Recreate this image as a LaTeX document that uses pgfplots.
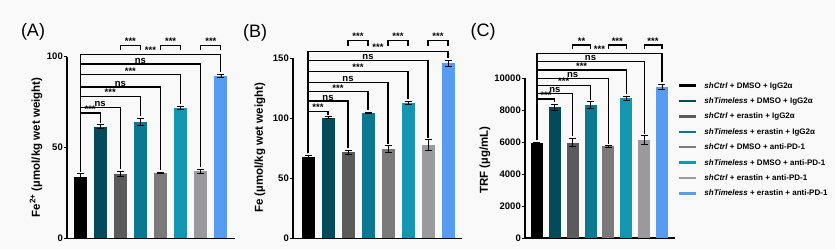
\documentclass[border=0pt]{standalone}
\usepackage{pgfplots}
\pgfplotsset{compat=1.18}
\usepackage{fontspec}
\setmainfont{Liberation Sans}
\usetikzlibrary{calc}
\definecolor{bg}{HTML}{F9F9F9}
\definecolor{c1}{HTML}{000000}
\definecolor{c2}{HTML}{034A5A}
\definecolor{c3}{HTML}{5B5B5B}
\definecolor{c4}{HTML}{0A7890}
\definecolor{c5}{HTML}{7A7A7A}
\definecolor{c6}{HTML}{1496B1}
\definecolor{c7}{HTML}{9A9A9E}
\definecolor{c8}{HTML}{569CF0}
\newcommand{\brk}[6]{%
  \draw[brk] (axis cs:#1,#4) -- (axis cs:#1,#3) -- (axis cs:#2,#3) -- (axis cs:#2,#5);
  \node[sig] at ($(axis cs:#1,#3)!0.5!(axis cs:#2,#3)$) {#6};}
\newcommand{\stars}{\fontsize{9.5}{9.5}\selectfont\raisebox{-2.3pt}{***}}
\newcommand{\twostars}{\fontsize{9.5}{9.5}\selectfont\raisebox{-2.3pt}{**}}
\newcommand{\ns}{\fontsize{9.5}{9.5}\selectfont ns}
\tikzset{brk/.style={line width=1.1pt, black},
  sig/.style={anchor=south, inner sep=0.6pt, font=\bfseries},
  ylab/.style={rotate=90, anchor=center, font=\bfseries\fontsize{11.5}{11.5}\selectfont}}
\newcommand{\limg}[1]{\addlegendimage{legend image code/.code={\draw[line width=2.5pt, draw=#1] (0pt,0pt) -- (17pt,0pt); \path[draw=none] (0pt,0pt) -- (24pt,0pt);}}}
\pgfplotsset{
  mybase/.style={
    scale only axis, clip=false,
    axis lines*=left,
    axis line style={line width=1.2pt, -},
    xtick=\empty,
    tick style={line width=1pt, black},
    major tick length=3pt,
    tick align=outside,
    ytick pos=left,
    minor tick num=0,
    scaled y ticks=false,
    /pgf/number format/assume math mode=true,
    /pgf/number format/1000 sep={},
    yticklabel style={font=\bfseries\fontsize{9.5}{10}\selectfont, inner sep=1pt},
    anchor=south west,
  },
  eb/.style={ybar, bar shift=0pt, draw=none,
    /pgfplots/error bars/y dir=both,
    /pgfplots/error bars/y explicit,
    /pgfplots/error bars/error bar style={line width=0.8pt, black},
    /pgfplots/error bars/error mark options={rotate=90, mark size=3.5pt, line width=0.8pt, black}},
}
\begin{document}
\begin{tikzpicture}
\fill[bg] (0pt,0pt) rectangle (835pt,-249pt);
\node[font=\fontsize{18}{18}\selectfont] at (33pt,-32pt) {(A)};
\node[font=\fontsize{18}{18}\selectfont] at (255pt,-33pt) {(B)};
\node[font=\fontsize{18}{18}\selectfont] at (483pt,-32pt) {(C)};
\node[ylab] at (36pt,-147.5pt) {Fe\textsuperscript{2+} (µmol/kg wet weight)};
\node[ylab] at (260pt,-148pt) {Fe (µmol/kg wet weight)};
\node[ylab] at (485pt,-160pt) {TRF (µg/mL)};

% Panel A
\begin{axis}[mybase, at={(67pt,-238.3pt)}, width=168pt, height=181.6pt,
  xmin=-0.65, xmax=7.7, ymin=0, ymax=100, ytick={0,50,100}]
\addplot[eb, bar width=13pt, fill=c1] coordinates {(0,34) +- (0,1.5)};
\addplot[eb, bar width=13pt, fill=c2] coordinates {(1,61.5) +- (0,1)};
\addplot[eb, bar width=13pt, fill=c3] coordinates {(2,35.5) +- (0,1.5)};
\addplot[eb, bar width=13pt, fill=c4] coordinates {(3,64) +- (0,2)};
\addplot[eb, bar width=13pt, fill=c5] coordinates {(4,36) +- (0,0.4)};
\addplot[eb, bar width=13pt, fill=c6] coordinates {(5,72) +- (0,0.8)};
\addplot[eb, bar width=13pt, fill=c7] coordinates {(6,37) +- (0,1.2)};
\addplot[eb, bar width=13pt, fill=c8] coordinates {(7,89.5) +- (0,1)};
\brk{0}{1}{69}{36.7}{63.7}{\stars}
\brk{0}{2}{72}{36.7}{38.2}{\ns}
\brk{0}{3}{78}{36.7}{67.2}{\stars}
\brk{0}{4}{83.3}{36.7}{37.6}{\ns}
\brk{0}{5}{90}{36.7}{74}{\stars}
\brk{0}{6}{96}{36.7}{39.4}{\ns}
\brk{0}{7}{101.4}{36.7}{91.7}{\stars}
\brk{2}{3}{106.4}{103.6}{103.6}{\stars}
\brk{4}{5}{106.4}{103.6}{103.6}{\stars}
\brk{6}{7}{106.4}{103.6}{103.6}{\stars}
\end{axis}

% Panel B
\begin{axis}[mybase, at={(293pt,-238.3pt)}, width=169pt, height=180pt,
  xmin=-0.75, xmax=7.7, ymin=0, ymax=150, ytick={0,50,100,150}]
\addplot[eb, bar width=13pt, fill=c1] coordinates {(0,67.5) +- (0,1.5)};
\addplot[eb, bar width=13pt, fill=c2] coordinates {(1,100.5) +- (0,0.8)};
\addplot[eb, bar width=13pt, fill=c3] coordinates {(2,71.7) +- (0,1.5)};
\addplot[eb, bar width=13pt, fill=c4] coordinates {(3,104.7) +- (0,0.6)};
\addplot[eb, bar width=13pt, fill=c5] coordinates {(4,74.2) +- (0,3)};
\addplot[eb, bar width=13pt, fill=c6] coordinates {(5,113) +- (0,1.5)};
\addplot[eb, bar width=13pt, fill=c7] coordinates {(6,77.8) +- (0,4.5)};
\addplot[eb, bar width=13pt, fill=c8] coordinates {(7,145.8) +- (0,2.5)};
\brk{0}{1}{106}{70.7}{103}{\stars}
\brk{0}{2}{114.4}{70.7}{74.9}{\ns}
\brk{0}{3}{122}{70.7}{107}{\stars}
\brk{0}{4}{130}{70.7}{78.9}{\ns}
\brk{0}{5}{139}{70.7}{116.2}{\stars}
\brk{0}{6}{148}{70.7}{84}{\ns}
\brk{0}{7}{156}{70.7}{150}{\stars}
\brk{2}{3}{165}{160.5}{160.5}{\stars}
\brk{4}{5}{165}{160.5}{160.5}{\stars}
\brk{6}{7}{165}{160.5}{160.5}{\stars}
\end{axis}

% Panel C
\begin{axis}[mybase, at={(525pt,-238pt)}, width=150pt, height=160pt,
  xmin=-0.67, xmax=7.73, ymin=0, ymax=10000, ytick={0,2000,4000,6000,8000,10000},
  legend style={at={(axis description cs:1.02,0.985)}, anchor=north west, draw=none, fill=none,
    font=\bfseries\fontsize{8}{9}\selectfont, row sep=5.4pt, inner sep=0pt,
    nodes={inner sep=1pt, text height=6.5pt, text depth=1.5pt}},
  legend cell align=left]
\addplot[eb, bar width=12pt, fill=c1, forget plot] coordinates {(0,5920) +- (0,80)};
\addplot[eb, bar width=12pt, fill=c2, forget plot] coordinates {(1,8170) +- (0,200)};
\addplot[eb, bar width=12pt, fill=c3, forget plot] coordinates {(2,5960) +- (0,260)};
\addplot[eb, bar width=12pt, fill=c4, forget plot] coordinates {(3,8310) +- (0,200)};
\addplot[eb, bar width=12pt, fill=c5, forget plot] coordinates {(4,5730) +- (0,40)};
\addplot[eb, bar width=12pt, fill=c6, forget plot] coordinates {(5,8730) +- (0,150)};
\addplot[eb, bar width=12pt, fill=c7, forget plot] coordinates {(6,6125) +- (0,280)};
\addplot[eb, bar width=12pt, fill=c8, forget plot] coordinates {(7,9460) +- (0,150)};
\brk{0}{1}{8690}{6125}{8495}{\stars}
\brk{0}{2}{9040}{6125}{6345}{\ns}
\brk{0}{3}{9540}{6125}{8635}{\stars}
\brk{0}{4}{9980}{6125}{5895}{\ns}
\brk{0}{5}{10500}{6125}{9005}{\stars}
\brk{0}{6}{11020}{6125}{6530}{\ns}
\brk{0}{7}{11540}{6125}{9735}{\stars}
\brk{2}{3}{12060}{11810}{11810}{\twostars}
\brk{4}{5}{12060}{11810}{11810}{\stars}
\brk{6}{7}{12060}{11810}{11810}{\stars}
\limg{c1}\addlegendentry{\textit{shCtrl} + DMSO + IgG2α}
\limg{c2}\addlegendentry{\textit{shTimeless} + DMSO + IgG2α}
\limg{c3}\addlegendentry{\textit{shCtrl} + erastin + IgG2α}
\limg{c4}\addlegendentry{\textit{shTimeless} + erastin + IgG2α}
\limg{c5}\addlegendentry{\textit{shCtrl} + DMSO + anti-PD-1}
\limg{c6}\addlegendentry{\textit{shTimeless} + DMSO + anti-PD-1}
\limg{c7}\addlegendentry{\textit{shCtrl} + erastin + anti-PD-1}
\limg{c8}\addlegendentry{\textit{shTimeless} + erastin + anti-PD-1}
\end{axis}
\pgfresetboundingbox
\useasboundingbox (0pt,0pt) rectangle (835pt,-249pt);
\end{tikzpicture}
\end{document}
